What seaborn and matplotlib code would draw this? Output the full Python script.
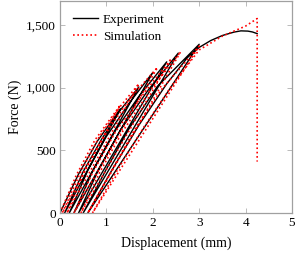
import matplotlib
matplotlib.use("Agg")
import matplotlib.pyplot as plt
from matplotlib.ticker import FuncFormatter
import seaborn as sns
import pandas as pd

# experiment: load / unload cycles as one continuous path (mm, N)
exp_x = [0.0, 0.4, 0.8, 1.3,
         0.1, 0.5, 0.9, 1.3, 1.7,
         0.2, 0.6, 1.0, 1.5, 2.0,
         0.3, 0.7, 1.2, 1.7, 2.3,
         0.4, 0.8, 1.3, 1.9, 2.55,
         0.5, 1.0, 1.5, 2.1, 3.0,
         0.6, 1.1, 1.7, 2.3, 2.75, 3.0, 3.25, 3.5, 3.75, 3.9, 4.05, 4.15, 4.25]
exp_f = [0, 310, 570, 830,
         0, 330, 590, 820, 1005,
         0, 340, 610, 880, 1120,
         0, 330, 660, 930, 1205,
         0, 320, 660, 980, 1275,
         0, 350, 680, 1010, 1345,
         0, 330, 700, 1030, 1240, 1320, 1375, 1415, 1442, 1452, 1450, 1443, 1430]

# simulation
sim_x = [0.0, 0.35, 0.75, 1.3,
         0.05, 0.45, 0.85, 1.3, 1.7,
         0.15, 0.55, 1.0, 1.5, 2.1,
         0.3, 0.7, 1.2, 1.8, 2.4,
         0.45, 0.85, 1.35, 1.95, 2.6,
         0.6, 1.1, 1.6, 2.2, 3.0,
         0.7, 1.2, 1.8, 2.4, 3.0, 3.5, 4.0, 4.25, 4.25]
sim_f = [0, 300, 580, 860,
         0, 330, 610, 850, 1030,
         0, 350, 640, 910, 1160,
         0, 320, 650, 950, 1230,
         0, 320, 650, 980, 1285,
         0, 330, 660, 990, 1330,
         0, 320, 680, 1010, 1300, 1410, 1490, 1550, 410]

plt.rcParams['font.family'] = ['Liberation Serif', 'DejaVu Serif']

fig = plt.figure(figsize=(3.01, 2.58), dpi=100)
ax = fig.add_axes([0.1993, 0.1744, 0.7707, 0.8217])

exp_df = pd.DataFrame({"x": exp_x, "f": exp_f})
sim_df = pd.DataFrame({"x": sim_x, "f": sim_f})
sns.lineplot(data=exp_df, x="x", y="f", sort=False, estimator=None, ax=ax,
             color='black', linewidth=1.0, label='Experiment')
sns.lineplot(data=sim_df, x="x", y="f", sort=False, estimator=None, ax=ax,
             color='red', linewidth=1.2, linestyle=(0, (1, 1.6)), label='Simulation')

ax.set_xlim(0, 5)
ax.set_ylim(0, 1690)
ax.set_xticks([0, 1, 2, 3, 4, 5])
ax.set_yticks([0, 500, 1000, 1500])
ax.yaxis.set_major_formatter(FuncFormatter(lambda v, p: f"{v:,.0f}"))
ax.tick_params(direction='in', top=True, right=True, length=3.5, width=0.6,
               color='#b0b0b0', labelsize=9.5, pad=3)
for s in ax.spines.values():
    s.set_color('#a0a0a0')
    s.set_linewidth(0.9)

ax.set_xlabel('Displacement (mm)', fontsize=10, labelpad=5)
ax.set_ylabel('Force (N)', fontsize=10, labelpad=3)

ax.legend(loc='upper left', frameon=False, fontsize=9.5, handlelength=1.9,
          borderaxespad=0.55, labelspacing=0.35, handletextpad=0.4)

fig.savefig('out.png', dpi=100)
